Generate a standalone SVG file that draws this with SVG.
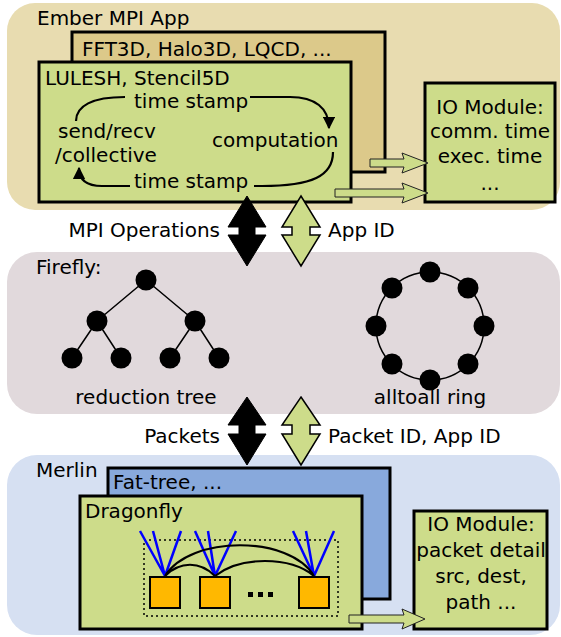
<svg xmlns="http://www.w3.org/2000/svg" width="561" height="637" viewBox="0 0 561 637">
<style>
text{font-family:"DejaVu Sans",sans-serif;font-size:20px;fill:#000}
.c{text-anchor:middle}
.box{stroke:#000;stroke-width:3}
.green{fill:#cddc8a}
.tan{fill:#dcc98a}
.blue{fill:#88a9dc}
.curve{fill:none;stroke:#000;stroke-width:2.2}
.blk{fill:#000;stroke:#000;stroke-width:1}
.garrow{fill:#cddc8a;stroke:#000;stroke-width:1.5}
.barrow{fill:#cddc8a;stroke:#222;stroke-width:1}
.dot{fill:#000}
.edge{stroke:#000;stroke-width:1.5;fill:none}
.bl{stroke:#0000ff;stroke-width:2.5}
.sq{fill:#ffb800;stroke:#000;stroke-width:2}
</style>
<defs>
<marker id="ah" viewBox="0 0 10 10" refX="9" refY="5" markerWidth="5.5" markerHeight="5.5" orient="auto">
<path d="M0,0 L10,5 L0,10 Z" fill="#000"/>
</marker>
</defs>

<g id="ember">
<rect x="7" y="3" width="553" height="207" rx="28" fill="#e8dcb0"/>
<text x="37" y="25">Ember MPI App</text>
</g>
<g id="firefly">
<rect x="7" y="252" width="553" height="162" rx="30" fill="#e1d9dc"/>
<text x="36" y="274">Firefly:</text>
</g>
<g id="merlin">
<rect x="7" y="455" width="553" height="180" rx="30" fill="#d6e0f2"/>
<text x="36" y="477">Merlin</text>
</g>

<g id="fft">
<rect class="box tan" x="72" y="32" width="313" height="140"/>
<text x="82" y="56">FFT3D, Halo3D, LQCD, ...</text>
</g>
<g id="lulesh">
<rect class="box green" x="39" y="62" width="312" height="140"/>
<text x="45" y="85">LULESH, Stencil5D</text>
<text x="134" y="108">time stamp</text>
<text x="58" y="138">send/recv</text>
<text x="55" y="162">/collective</text>
<text x="212" y="147">computation</text>
<text x="134" y="188">time stamp</text>
</g>
<g id="io-app">
<rect class="box green" x="425" y="83" width="130" height="119"/>
<text class="c" x="490" y="114">IO Module:</text>
<text class="c" x="490" y="138">comm. time</text>
<text class="c" x="490" y="163">exec. time</text>
<text class="c" x="490" y="190">...</text>
</g>

<g id="tree">
<path class="edge" d="M146,280 L97,321 M146,280 L195,321 M97,321 L72,358 M97,321 L121,358 M195,321 L170,358 M195,321 L219,358"/>
<circle class="dot" cx="146" cy="280" r="10.5"/>
<circle class="dot" cx="97" cy="321" r="10.5"/>
<circle class="dot" cx="195" cy="321" r="10.5"/>
<circle class="dot" cx="72" cy="358" r="10.5"/>
<circle class="dot" cx="121" cy="358" r="10.5"/>
<circle class="dot" cx="170" cy="358" r="10.5"/>
<circle class="dot" cx="219" cy="358" r="10.5"/>
<text class="c" x="146" y="404">reduction tree</text>
</g>
<g id="ring">
<circle class="edge" cx="430" cy="326" r="54"/>
<circle class="dot" cx="430" cy="272" r="10.5"/>
<circle class="dot" cx="468" cy="288" r="10.5"/>
<circle class="dot" cx="484" cy="326" r="10.5"/>
<circle class="dot" cx="468" cy="364" r="10.5"/>
<circle class="dot" cx="430" cy="380" r="10.5"/>
<circle class="dot" cx="392" cy="364" r="10.5"/>
<circle class="dot" cx="376" cy="326" r="10.5"/>
<circle class="dot" cx="392" cy="288" r="10.5"/>
<text class="c" x="430" y="404">alltoall ring</text>
</g>

<g id="fattree">
<rect class="box blue" x="108" y="468" width="282" height="131"/>
<text x="113" y="489">Fat-tree, ...</text>
</g>
<g id="dragonfly">
<rect class="box green" x="80" y="496" width="282" height="133"/>
<text x="85" y="518">Dragonfly</text>
<rect x="144" y="540" width="194" height="76" fill="none" stroke="#000" stroke-width="1.5" stroke-dasharray="2,3"/>
<path class="bl" d="M165,576 L140,531 M165,576 L153,531 M165,576 L181,531 M215,576 L195,531 M215,576 L208,531 M215,576 L236,531 M314,576 L293,531 M314,576 L306,531 M314,576 L334,531"/>
<path class="curve" d="M165,576 C190,535 290,535 314,576 M165,576 C180,561 200,561 215,576 M215,576 C240,556 290,556 314,576"/>
<rect class="sq" x="150" y="577" width="30" height="31"/>
<rect class="sq" x="200" y="577" width="30" height="31"/>
<rect class="sq" x="299" y="577" width="30" height="31"/>
<rect x="248" y="592" width="5" height="5" fill="#000"/>
<rect x="258" y="592" width="5" height="5" fill="#000"/>
<rect x="268" y="592" width="5" height="5" fill="#000"/>
</g>
<g id="io-net">
<rect class="box green" x="414" y="511" width="133" height="118"/>
<text class="c" x="481" y="531">IO Module:</text>
<text class="c" x="481" y="557">packet detail</text>
<text class="c" x="481" y="583">src, dest,</text>
<text class="c" x="481" y="609">path ...</text>
</g>

<g id="connectors">
<path class="curve" d="M76,121 C76,106 92,97 125,97"/>
<path class="curve" marker-end="url(#ah)" d="M250,97 L290,97 C315,97 329,108 329,128"/>
<path class="curve" d="M333,152 C333,176 312,186 262,186 L254,186"/>
<path class="curve" marker-end="url(#ah)" d="M130,186 L102,186 C86,186 79,180 79,168"/>

<path class="barrow" d="M370,159 L404,159 L402,153 L428,163 L402,173 L404,167 L370,167 Z"/>
<path class="barrow" d="M335,189 L404,189 L402,183 L428,193 L402,203 L404,197 L335,197 Z"/>
<path class="barrow" d="M349,615 L404,615 L402,609 L425,619 L402,629 L404,623 L349,623 Z"/>

<path class="blk" d="M247,196 L266,227 L255,227 L255,235 L266,235 L247,266 L228,235 L239,235 L239,227 L228,227 Z"/>
<path class="garrow" d="M301,196 L320,227 L310,227 L310,235 L320,235 L301,266 L282,235 L292,235 L292,227 L282,227 Z"/>
<text x="220" y="237" text-anchor="end">MPI Operations</text>
<text x="328" y="237">App ID</text>

<path class="blk" d="M247,397 L266,425 L255,425 L255,434 L266,434 L247,465 L228,434 L239,434 L239,425 L228,425 Z"/>
<path class="garrow" d="M301,397 L320,425 L310,425 L310,434 L320,434 L301,465 L282,434 L292,434 L292,425 L282,425 Z"/>
<text x="220" y="443" text-anchor="end">Packets</text>
<text x="328" y="443">Packet ID, App ID</text>
</g>
</svg>
